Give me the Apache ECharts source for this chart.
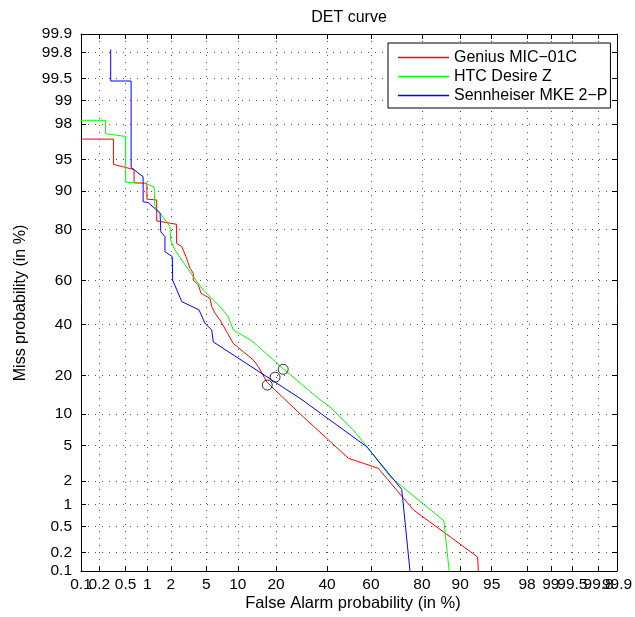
<!DOCTYPE html>
<html><head><meta charset="utf-8">
<script src="https://cdn.jsdelivr.net/npm/echarts@6/dist/echarts.min.js"></script>
<style>html,body{margin:0;padding:0;background:#fff}#c{width:635px;height:617px}</style>
</head><body><div id="c"></div>
<script>
// ---- data (percent) ----
const tickValues = [0.1, 0.2, 0.5, 1, 2, 5, 10, 20, 40, 60, 80, 90, 95, 98, 99, 99.5, 99.8, 99.9];
const tickLabels = ['0.1', '0.2', '0.5', '1', '2', '5', '10', '20', '40', '60', '80', '90', '95', '98', '99', '99.5', '99.8', '99.9'];
const seriesNames = ['Genius MIC\u221201C', 'HTC Desire Z', 'Sennheiser MKE 2\u2212P'];

const geniusFa = [0.1, 0.33, 0.33, 0.66, 0.66, 0.99, 0.99, 1.33, 1.33, 2.34, 2.34, 2.69, 3.01, 3.34, 3.63, 3.63, 4.11, 4.40, 5.45, 5.67, 6.12, 6.85, 7.93, 9.1, 11.1, 13.5, 14.8, 17.1, 19.1, 29.9, 40.6, 49.7, 63.2, 77.1, 93.1, 93.2];
const geniusMiss = [97.0, 97.0, 94.4, 93.7, 91.6, 91.5, 88.3, 88.1, 82.6, 81.6, 75.2, 74.0, 70.1, 65.3, 63.2, 60.2, 58.0, 54.2, 51.9, 48.1, 45.1, 42.0, 36.8, 31.9, 28.6, 25.4, 23.0, 18.1, 16.2, 9.4, 5.7, 3.65, 2.82, 0.85, 0.17, 0.1];

const htcFa = [0.1, 0.25, 0.25, 0.50, 0.50, 0.98, 1.23, 1.26, 1.47, 1.95, 1.99, 2.24, 3.63, 4.65, 5.45, 6.85, 8.2, 9.1, 13.1, 22.3, 36.2, 41.3, 52.0, 58.8, 68.2, 86.3, 87.6];
const htcMiss = [98.2, 98.2, 97.4, 97.2, 91.7, 91.4, 90.8, 86.5, 84.8, 80.9, 76.4, 72.7, 61.7, 55.7, 52.7, 48.1, 43.5, 37.6, 33.0, 22.4, 13.5, 11.5, 7.1, 4.67, 2.25, 0.60, 0.1];

const sennFa = [0.30, 0.30, 0.60, 0.60, 0.88, 0.88, 1.03, 1.47, 1.5, 1.69, 1.69, 2.08, 2.1, 2.69, 4.19, 4.84, 5.67, 5.88, 28.6, 58.1, 72.8, 73.2, 75.9];
const sennMiss = [99.82, 99.46, 99.46, 94.0, 92.6, 87.7, 87.5, 84.8, 79.2, 77.6, 72.1, 70.1, 60.2, 50.4, 46.6, 40.5, 37.6, 32.5, 13.5, 4.85, 1.58, 1.21, 0.1];

// min-DCF operating points (Genius, HTC, Sennheiser)
const minDcfFa = [17.3, 22.4, 19.7];
const minDcfMiss = [17.1, 22.1, 19.5];

// ---- probit scale ----
function probit(pct) {
  const p = pct / 100;
  const a = [-3.969683028665376e+01, 2.209460984245205e+02, -2.759285104469687e+02, 1.383577518672690e+02, -3.066479806614716e+01, 2.506628277459239e+00];
  const b = [-5.447609879822406e+01, 1.615858368580409e+02, -1.556989798598866e+02, 6.680131188771972e+01, -1.328068155288572e+01];
  const c = [-7.784894002430293e-03, -3.223964580411365e-01, -2.400758277161838e+00, -2.549671348402274e+00, 4.374664141464968e+00, 2.938163982698783e+00];
  const d = [7.784695709041462e-03, 3.224671290700398e-01, 2.445134137142996e+00, 3.754408661907416e+00];
  const plow = 0.02425, phigh = 1 - plow;
  let q, r;
  if (p < plow) {
    q = Math.sqrt(-2 * Math.log(p));
    return (((((c[0]*q+c[1])*q+c[2])*q+c[3])*q+c[4])*q+c[5]) / ((((d[0]*q+d[1])*q+d[2])*q+d[3])*q+1);
  } else if (p <= phigh) {
    q = p - 0.5; r = q*q;
    return (((((a[0]*r+a[1])*r+a[2])*r+a[3])*r+a[4])*r+a[5])*q / (((((b[0]*r+b[1])*r+b[2])*r+b[3])*r+b[4])*r+1);
  } else {
    q = Math.sqrt(-2 * Math.log(1 - p));
    return -(((((c[0]*q+c[1])*q+c[2])*q+c[3])*q+c[4])*q+c[5]) / ((((d[0]*q+d[1])*q+d[2])*q+d[3])*q+1);
  }
}
const tickPos = tickValues.map(probit);
const evenPos = tickPos.filter((v, i) => i % 2 === 0);
const oddPos = tickPos.filter((v, i) => i % 2 === 1);
const AX_MIN = probit(0.1), AX_MAX = probit(99.9);
function lab(v) {
  for (let i = 0; i < tickPos.length; i++) if (Math.abs(tickPos[i] - v) < 1e-6) return tickLabels[i];
  return '';
}
function pairs(fa, miss) { return fa.map((f, i) => [probit(f), probit(miss[i])]); }

const FONT = '"Liberation Sans", Arial, Helvetica, sans-serif';
const LBL = { color: '#000', fontSize: 15.5, fontFamily: FONT, formatter: lab, showMinLabel: true, showMaxLabel: true, hideOverlap: false };
const gridLine = { show: true, lineStyle: { color: '#555', type: [1, 6], width: 1 } };
const blackLine = { show: true, onZero: false, lineStyle: { color: '#000', width: 1 } };
const innerTick = { show: true, inside: true, length: 5, customValues: tickPos, lineStyle: { color: '#000' } };

const xAxes = [
  { type: 'value', position: 'bottom', min: AX_MIN, max: AX_MAX, axisLine: blackLine, axisTick: innerTick,
    axisLabel: Object.assign({ customValues: evenPos, margin: 6 }, LBL), splitLine: gridLine },
  { type: 'value', position: 'bottom', min: AX_MIN, max: AX_MAX, axisLine: { show: false }, axisTick: { show: false },
    axisLabel: Object.assign({ customValues: oddPos, margin: 6 }, LBL), splitLine: { show: false } },
  { type: 'value', position: 'top', min: AX_MIN, max: AX_MAX, axisLine: blackLine, axisTick: innerTick,
    axisLabel: { show: false }, splitLine: { show: false } }
];
const yAxes = [
  { type: 'value', position: 'left', min: AX_MIN, max: AX_MAX, axisLine: blackLine, axisTick: innerTick,
    axisLabel: Object.assign({ customValues: tickPos, margin: 9 }, LBL), splitLine: gridLine },
  { type: 'value', position: 'right', min: AX_MIN, max: AX_MAX, axisLine: blackLine, axisTick: innerTick,
    axisLabel: { show: false }, splitLine: { show: false } }
];

const colors = ['#ff0000', '#00ff00', '#0000ff'];
const chart = echarts.init(document.getElementById('c'), null, { renderer: 'canvas' });
chart.setOption({
  animation: false,
  backgroundColor: '#fff',
  grid: { left: 81, right: 18, top: 34, bottom: 46, containLabel: false, outerBoundsMode: 'none' },
  xAxis: xAxes,
  yAxis: yAxes,
  legend: {
    orient: 'vertical', left: 388, top: 43, padding: [5, 3, 3, 10], itemGap: 0,
    itemWidth: 51, itemHeight: 1.5, itemTextGap: 5, icon: 'rect',
    backgroundColor: '#fff', borderColor: '#000', borderWidth: 1, borderRadius: 0,
    textStyle: { fontSize: 16, lineHeight: 19, color: '#000', fontFamily: FONT },
    data: seriesNames
  },
  graphic: [
    { type: 'text', x: 349, y: 18, style: { text: 'DET curve', fill: '#000', font: '16px ' + FONT, align: 'center', verticalAlign: 'middle' } },
    { type: 'text', x: 353, y: 603, style: { text: 'False Alarm probability (in %)', fill: '#000', font: '16.5px ' + FONT, align: 'center', verticalAlign: 'middle' } },
    { type: 'text', x: 20.5, y: 303, rotation: Math.PI / 2, style: { text: 'Miss probability (in %)', fill: '#000', font: '16px ' + FONT, align: 'center', verticalAlign: 'middle' } }
  ],
  series: [
    { name: seriesNames[0], type: 'line', data: pairs(geniusFa, geniusMiss), symbol: 'none', lineStyle: { color: colors[0], width: 1 }, itemStyle: { color: colors[0] }, clip: true },
    { name: seriesNames[1], type: 'line', data: pairs(htcFa, htcMiss), symbol: 'none', lineStyle: { color: colors[1], width: 1 }, itemStyle: { color: colors[1] }, clip: true },
    { name: seriesNames[2], type: 'line', data: pairs(sennFa, sennMiss), symbol: 'none', lineStyle: { color: colors[2], width: 1 }, itemStyle: { color: colors[2] }, clip: true },
    { name: 'minDCF', type: 'scatter', data: pairs(minDcfFa, minDcfMiss), symbol: 'circle', symbolSize: 10,
      itemStyle: { color: 'rgba(0,0,0,0)', borderColor: '#000', borderWidth: 1 }, silent: true, z: 5 }
  ]
});
</script></body></html>
